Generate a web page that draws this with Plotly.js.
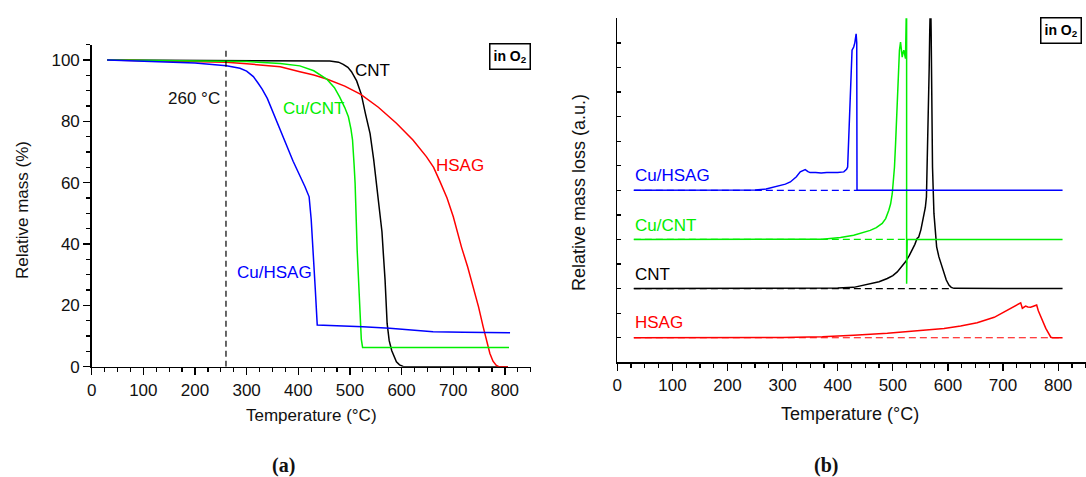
<!DOCTYPE html>
<html>
<head>
<meta charset="utf-8">
<script src="https://cdn.plot.ly/plotly-3.0.1.min.js"></script>
<style>
  html, body { margin: 0; padding: 0; background: #ffffff; }
  #chart { width: 1086px; height: 477px; }
</style>
</head>
<body>
<div id="chart"></div>
<script>
// ---------- (a) TGA: relative mass (%) vs temperature (°C) ----------
const cntT      = [30, 100, 200, 300, 400, 461, 478, 487, 496, 503, 513, 522, 530, 539, 546, 552, 557, 562, 565, 568, 572, 576, 581, 586, 590, 596, 603, 610, 700, 806];
const cntMass   = [100, 99.95, 99.9, 99.9, 99.85, 99.7, 99.3, 98.6, 97.6, 96.2, 93.2, 88.8, 82.5, 76, 67.5, 58.7, 51, 44, 36, 28.3, 14.1, 8.5, 5.2, 2.9, 1.6, 0.6, 0.1, 0, 0, 0];

const cuCntT    = [30, 100, 200, 261, 300, 365, 403, 430, 455, 470, 480, 490, 497, 502, 505, 508, 510, 514, 517, 520, 522, 524.5, 600, 700, 808];
const cuCntMass = [100, 99.9, 99.8, 99.7, 99.5, 98.9, 98.1, 96.5, 93.8, 91, 88, 84.5, 81.5, 77.5, 74, 66, 59.8, 38, 25, 14, 9, 6.3, 6.3, 6.3, 6.3];

const hsagT     = [30, 100, 200, 261, 300, 365, 403, 430, 455, 490, 521, 555, 590, 622, 648, 662, 674, 688, 700, 716, 728, 739, 749, 758, 765, 771, 777, 783, 788, 806];
const hsagMass  = [100, 99.8, 99.5, 99.3, 98.8, 97.8, 96.2, 95.1, 93.8, 91.5, 88.8, 84.6, 79.4, 73.9, 68.5, 65, 60.5, 55, 49, 39, 32.5, 26, 19.5, 13, 8, 4.3, 1.8, 0.5, 0, 0];

const cuHsagT    = [30, 100, 200, 261, 287, 300, 313, 322, 330, 340, 365, 390, 413, 421, 425, 429, 433, 436.7, 480, 525, 577, 620, 661, 720, 810];
const cuHsagMass = [100, 99.5, 99, 98.1, 97.3, 96.4, 94.6, 92.5, 90.5, 87.5, 77.2, 67, 58.7, 55.4, 48, 38, 25, 13.6, 13.4, 13, 12.5, 11.9, 11.4, 11.2, 11.1];

const markerTemp = 260;          // vertical reference line
const markerTop  = 104;

// ---------- (b) DTG: relative mass loss (a.u.), curves offset vertically ----------
const dtgCuHsagT = [30, 100, 200, 250, 270, 290, 305, 314, 325, 332, 337, 341, 346, 350, 360, 370, 380, 390, 400, 411, 416, 418, 420, 422, 424, 426, 429, 431, 433.4, 434.5, 435, 436, 500, 600, 700, 808];
const dtgCuHsag  = [7, 7, 7, 7.01, 7.05, 7.15, 7.25, 7.34, 7.55, 7.75, 7.82, 7.84, 7.76, 7.72, 7.72, 7.7, 7.72, 7.71, 7.72, 7.75, 7.85, 7.95, 9.0, 9.98, 11.5, 12.7, 12.83, 13.0, 13.37, 13.0, 7, 7, 7, 7, 7, 7];

const dtgCuCntT  = [30, 100, 200, 300, 350, 372, 405, 429, 459, 470, 480.7, 487, 492.7, 496, 499, 501, 503, 505, 506.7, 508, 509.8, 512, 514, 515.5, 517, 518.5, 520, 523, 525, 525.05, 526, 530, 600, 700, 808];
const dtgCuCnt   = [5, 5, 5, 5, 5, 5.01, 5.08, 5.17, 5.37, 5.48, 5.65, 5.85, 6.19, 6.45, 6.87, 7.3, 7.95, 8.9, 9.98, 11, 12, 12.7, 13.03, 12.8, 12.42, 12.6, 12.7, 12.36, 15, 3.2, 5, 5, 5, 5, 5];

const dtgCntT    = [30, 100, 200, 300, 372, 400, 429, 459, 475, 490, 500, 508, 516, 523, 530, 535, 540, 544, 547, 551, 556, 559, 561, 562.5, 563.6, 565, 566, 567, 568.5, 569.5, 570.4, 572, 574.6, 577, 579.5, 583.6, 588, 592.7, 597, 601.8, 606, 611, 650, 700, 808];
const dtgCnt     = [3, 3, 3, 3, 3, 3.02, 3.05, 3.18, 3.28, 3.41, 3.53, 3.68, 3.88, 4.09, 4.35, 4.57, 4.8, 5.04, 5.1, 5.4, 5.92, 6.3, 6.73, 8, 9.3, 11, 12, 13.5, 15, 13.5, 10.66, 7.95, 6.06, 5.3, 4.7, 4.29, 3.95, 3.62, 3.35, 3.14, 3.05, 3.01, 3, 3, 3];

const dtgHsagT   = [30, 100, 200, 300, 372, 405, 429, 490, 550, 593, 623, 653, 684, 702, 720, 728, 732, 735, 741, 745, 750, 755, 761, 764, 768.5, 777.6, 786.7, 790, 808];
const dtgHsag    = [1, 1, 1, 1.01, 1.04, 1.07, 1.1, 1.18, 1.28, 1.38, 1.48, 1.61, 1.83, 2.06, 2.29, 2.38, 2.42, 2.2, 2.29, 2.25, 2.24, 2.28, 2.33, 2.1, 1.85, 1.38, 1.02, 1, 1];

// baseline level and end temperature of each offset DTG curve
const baseNames  = ['Cu/HSAG', 'Cu/CNT', 'CNT', 'HSAG'];
const baseLevels = [7, 5, 3, 1];
const baseStartT = 30;
const baseEndT   = [435, 525, 605, 808];

const tempTicks = [0, 100, 200, 300, 400, 500, 600, 700, 800];
const massTicks = [0, 20, 40, 60, 80, 100];

// ---------- styling ----------
const W = 1086, H = 477;
const px = x => x / W;
const py = y => 1 - y / H;
const FONT = 'Liberation Sans, Arial, Helvetica, sans-serif';
const COL = { 'CNT': '#000000', 'Cu/CNT': '#00ee00', 'HSAG': '#ff0000', 'Cu/HSAG': '#0000ff' };
const LW = 1.5;

function line(x, y, name, xa, ya, dash) {
  return {
    x: x, y: y, name: name, xaxis: xa, yaxis: ya, type: 'scatter', mode: 'lines',
    line: { color: COL[name], width: dash ? 1.2 : LW, dash: dash || 'solid' },
    hoverinfo: 'skip'
  };
}

const traces = [
  line(cntT, cntMass, 'CNT', 'x', 'y'),
  line(hsagT, hsagMass, 'HSAG', 'x', 'y'),
  line(cuCntT, cuCntMass, 'Cu/CNT', 'x', 'y'),
  line(cuHsagT, cuHsagMass, 'Cu/HSAG', 'x', 'y')
];

// dashed baselines under the offset DTG curves
baseNames.forEach((n, i) => {
  traces.push(line([baseStartT, baseEndT[i]], [baseLevels[i], baseLevels[i]], n, 'x2', 'y2', '7px,4px'));
});
traces.push(
  line(dtgHsagT, dtgHsag, 'HSAG', 'x2', 'y2'),
  line(dtgCntT, dtgCnt, 'CNT', 'x2', 'y2'),
  line(dtgCuCntT, dtgCuCnt, 'Cu/CNT', 'x2', 'y2'),
  line(dtgCuHsagT, dtgCuHsag, 'Cu/HSAG', 'x2', 'y2')
);

const tickFont = { family: FONT, size: 17, color: '#111' };
const axisBase = {
  showgrid: false, zeroline: false, showline: true, linecolor: '#000', linewidth: 1.5,
  ticks: 'outside', tickcolor: '#000', tickwidth: 1.3, tickfont: tickFont, fixedrange: true
};

const layout = {
  width: W, height: H,
  margin: { l: 0, r: 0, t: 0, b: 0 },
  paper_bgcolor: '#fff', plot_bgcolor: 'rgba(0,0,0,0)',
  showlegend: false,
  font: { family: FONT, size: 17, color: '#111' },
  xaxis: Object.assign({}, axisBase, {
    domain: [px(91.7), px(530.7)], range: [0, 850], anchor: 'y',
    tickvals: tempTicks, ticklen: 7,
    minor: { dtick: 25, tick0: 0, ticks: 'outside', ticklen: 4, tickcolor: '#000', tickwidth: 1.2 }
  }),
  yaxis: Object.assign({}, axisBase, {
    domain: [py(366.7), py(44.7)], range: [0, 105], anchor: 'x',
    tickvals: massTicks, ticklen: 7,
    minor: { dtick: 5, tick0: 0, ticks: 'outside', ticklen: 4, tickcolor: '#000', tickwidth: 1.2 }
  }),
  xaxis2: Object.assign({}, axisBase, {
    domain: [px(617.3), px(1085.7)], range: [0, 850], anchor: 'y2',
    tickvals: tempTicks, ticklen: 7,
    minor: { dtick: 25, tick0: 0, ticks: 'outside', ticklen: 4, tickcolor: '#000', tickwidth: 1.2 }
  }),
  yaxis2: Object.assign({}, axisBase, {
    domain: [py(362.3), py(18.3)], range: [0, 14], anchor: 'x2',
    dtick: 1, tick0: 0, ticks: 'inside', ticklen: 4, showticklabels: false
  }),
  shapes: [{
    type: 'line', xref: 'x', yref: 'y', x0: markerTemp, x1: markerTemp, y0: 0, y1: markerTop,
    line: { color: '#000', width: 1.2, dash: '6px,4px' }
  }],
  annotations: []
};

const A = layout.annotations;
function label(text, x, y, xr, yr, color, anchor) {
  A.push({ text: text, x: x, y: y, xref: xr, yref: yr, showarrow: false,
           xanchor: anchor || 'left', yanchor: 'middle',
           font: { family: FONT, size: 17, color: color } });
}

// curve labels, panel (a)
label('260 °C', 253, 87.6, 'x', 'y', '#111', 'right');
label('CNT', 506, 96.7, 'x', 'y', COL['CNT']);
label('Cu/CNT', 366, 84.3, 'x', 'y', COL['Cu/CNT']);
label('HSAG', 662, 65.5, 'x', 'y', COL['HSAG']);
label('Cu/HSAG', 278, 30.6, 'x', 'y', COL['Cu/HSAG']);

// curve labels, panel (b)
label('Cu/HSAG', 29, 7.62, 'x2', 'y2', COL['Cu/HSAG']);
label('Cu/CNT', 29, 5.56, 'x2', 'y2', COL['Cu/CNT']);
label('CNT', 29, 3.57, 'x2', 'y2', COL['CNT']);
label('HSAG', 29, 1.6, 'x2', 'y2', COL['HSAG']);

// atmosphere boxes
[[510, 56], [1061, 30.5]].forEach(p => {
  A.push({ text: '<b>in O<sub>2</sub></b>', x: px(p[0]), y: py(p[1]), xref: 'paper', yref: 'paper',
           showarrow: false, xanchor: 'center', yanchor: 'middle',
           bordercolor: '#000', borderwidth: 1.5, borderpad: 3, bgcolor: '#fff',
           font: { family: FONT, size: 14, color: '#000' } });
});

// axis titles
function title(text, x, y, angle, size) {
  A.push({ text: text, x: px(x), y: py(y), xref: 'paper', yref: 'paper', showarrow: false,
           xanchor: 'center', yanchor: 'middle', textangle: angle || 0,
           font: { family: FONT, size: size || 17, color: '#111' } });
}
title('Temperature (°C)', 311, 415);
title('Relative mass (%)', 22, 210, -90);
title('Temperature (°C)', 850, 414, 0, 18);
title('Relative mass loss (a.u.)', 579, 193, -90, 18);

// panel captions
[['(a)', 283], ['(b)', 826]].forEach(c => {
  A.push({ text: '<b>' + c[0] + '</b>', x: px(c[1]), y: py(465), xref: 'paper', yref: 'paper',
           showarrow: false, xanchor: 'center', yanchor: 'middle',
           font: { family: 'Liberation Serif, DejaVu Serif, serif', size: 20, color: '#111' } });
});

Plotly.newPlot('chart', traces, layout, { staticPlot: true, displayModeBar: false });
</script>
</body>
</html>
